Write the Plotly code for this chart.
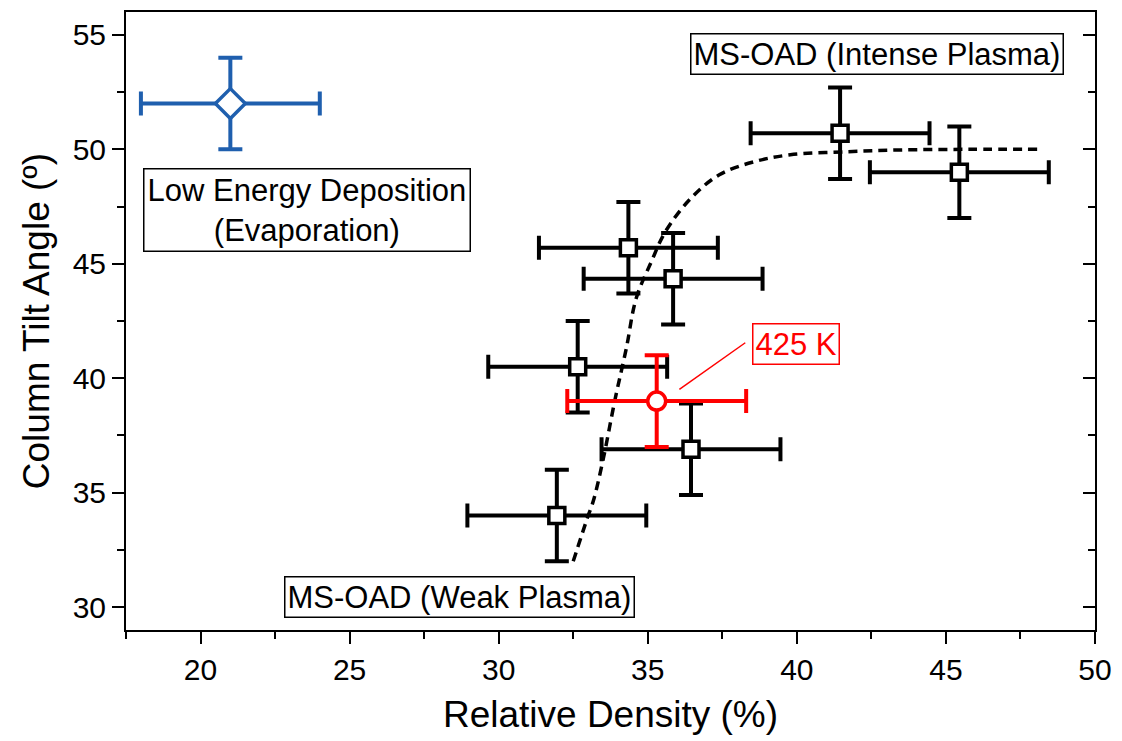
import plotly.graph_objects as go

# ---- data ----
ms_x = [41.45, 45.45, 34.35, 35.85, 32.65, 36.45, 31.95]
ms_y = [50.7, 49.0, 45.7, 44.35, 40.5, 36.9, 34.0]
ms_xerr = [3.0, 3.0, 3.0, 3.0, 3.0, 3.0, 3.0]
ms_yerr = [2.0, 2.0, 2.0, 2.0, 2.0, 2.0, 2.0]

hot_x = [35.3]
hot_y = [39.0]
hot_xerr = [3.0]
hot_yerr = [2.0]

evap_x = [21.0]
evap_y = [52.0]
evap_xerr = [3.0]
evap_yerr = [2.0]

curve_x = [32.5, 32.97, 33.17, 33.49, 33.91, 34.28, 34.61, 35.12, 35.59, 36.43,
           37.40, 38.57, 39.78, 41.59, 43.37, 45.79, 48.17]
curve_y = [32.0, 33.88, 34.62, 36.37, 39.12, 41.30, 43.48, 45.09, 46.40, 47.84,
           48.89, 49.46, 49.76, 49.89, 49.97, 50.0, 50.0]

x_range = [17.5, 50]
y_range = [29, 56]

FONT = "Arial"
BLUE = "#1f5fae"
RED = "#ff0000"

fig = go.Figure()

# dashed fit curve
fig.add_trace(go.Scatter(x=curve_x, y=curve_y, mode="lines",
                         line=dict(color="black", width=3.5, dash="9px,6px", shape="spline"),
                         hoverinfo="skip", showlegend=False))

def err(arr, color):
    return dict(type="data", array=arr, visible=True, color=color, thickness=4, width=12)

fig.add_trace(go.Scatter(x=ms_x, y=ms_y, mode="markers",
                         error_x=err(ms_xerr, "black"), error_y=err(ms_yerr, "black"),
                         marker=dict(symbol="square", size=16, color="white",
                                     line=dict(color="black", width=3.5)),
                         showlegend=False))

fig.add_trace(go.Scatter(x=hot_x, y=hot_y, mode="markers",
                         error_x=err(hot_xerr, RED), error_y=err(hot_yerr, RED),
                         marker=dict(symbol="circle", size=18, color="white",
                                     line=dict(color=RED, width=3.5)),
                         showlegend=False))

fig.add_trace(go.Scatter(x=evap_x, y=evap_y, mode="markers",
                         error_x=err(evap_xerr, BLUE), error_y=err(evap_yerr, BLUE),
                         marker=dict(symbol="diamond", size=23, color="white",
                                     line=dict(color=BLUE, width=3.5)),
                         showlegend=False))

# invisible trace for right axis
fig.add_trace(go.Scatter(x=[x_range[0]], y=[y_range[0]], yaxis="y2", mode="markers",
                         marker=dict(opacity=0), hoverinfo="skip", showlegend=False))

# annotations
box = dict(bordercolor="black", borderwidth=1.5, bgcolor="white", showarrow=False,
           xref="x", yref="y", font=dict(family=FONT, size=31, color="black"))
fig.add_annotation(text="MS-OAD (Intense Plasma)", x=42.7, y=54.17, borderpad=2, **box)
fig.add_annotation(text="Low Energy Deposition<br>(Evaporation)", x=23.57, y=47.36,
                   borderpad=3, **box)
fig.add_annotation(text="MS-OAD (Weak Plasma)", x=28.67, y=30.43, borderpad=2, **box)

fig.add_shape(type="line", xref="x", yref="y", x0=38.27, y0=41.55, x1=36.06, y1=39.51,
              line=dict(color=RED, width=1.5))
fig.add_annotation(text="425 K", x=39.98, y=41.51, xref="x", yref="y", showarrow=False,
                   bordercolor=RED, borderwidth=1.5, borderpad=2, bgcolor="white",
                   font=dict(family=FONT, size=31, color=RED))

axis_common = dict(showgrid=False, zeroline=False, showline=True, linecolor="black",
                   linewidth=2, tickcolor="black", tickwidth=2, ticklen=12,
                   tickfont=dict(family=FONT, size=30, color="black"))
minor_out = dict(dtick=2.5, tick0=0, ticks="outside", ticklen=7, tickwidth=2,
                 tickcolor="black")
minor_in = dict(dtick=2.5, tick0=0, ticks="inside", ticklen=7, tickwidth=2,
                tickcolor="black")

fig.update_layout(
    width=1122, height=741,
    margin=dict(l=126, r=24, t=10, b=111),
    plot_bgcolor="white", paper_bgcolor="white",
    font=dict(family=FONT, color="black"),
    xaxis=dict(range=x_range, dtick=5, tick0=0, ticks="outside", mirror=True,
               minor=minor_out,
               title=dict(text="Relative Density (%)", standoff=16,
                          font=dict(family=FONT, size=37, color="black")),
               **axis_common),
    yaxis=dict(range=y_range, dtick=5, tick0=0, ticks="outside",
               minor=minor_out,
               title=dict(text="Column Tilt Angle (º)", standoff=12,
                          font=dict(family=FONT, size=37, color="black")),
               **axis_common),
    yaxis2=dict(range=y_range, overlaying="y", side="right", dtick=5, tick0=0,
                ticks="inside", showticklabels=False,
                minor=minor_in,
                **{k: v for k, v in axis_common.items() if k != "tickfont"}),
)

fig.write_html("out.html")
